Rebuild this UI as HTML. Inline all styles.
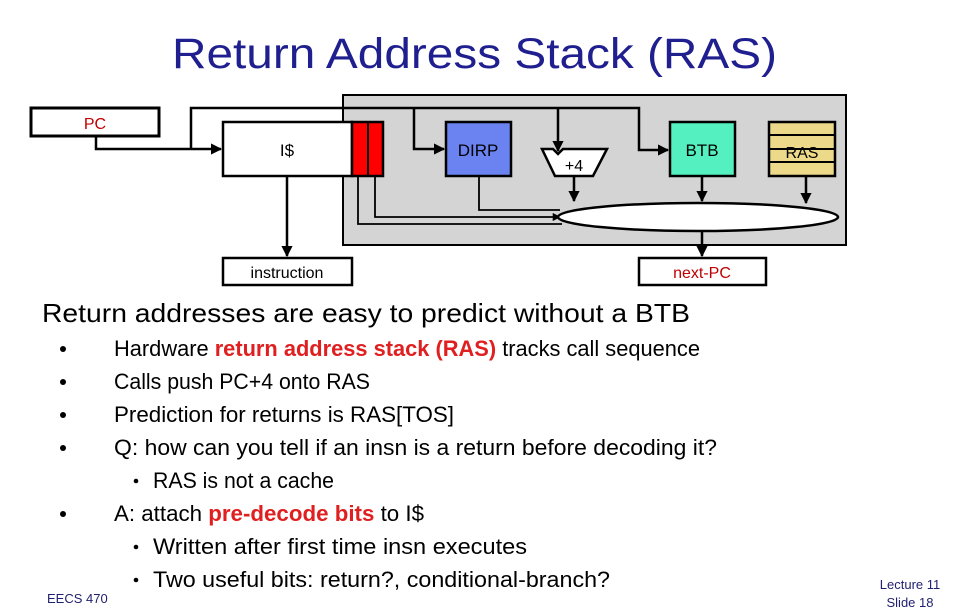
<!DOCTYPE html>
<html><head><meta charset="utf-8"><style>
html,body{margin:0;padding:0;background:#fff;}
svg{display:block;}
</style></head><body>
<svg width="958" height="612" viewBox="0 0 958 612" xmlns="http://www.w3.org/2000/svg" font-family="Liberation Sans, sans-serif">
<defs>
<marker id="a" viewBox="0 0 10 10" refX="9" refY="5" markerWidth="4.5" markerHeight="4.5" orient="auto"><path d="M0,0 L10,5 L0,10 z" fill="#000"/></marker>
</defs>
<text x="172" y="68" font-size="43" fill="#1f1f8f" textLength="605" lengthAdjust="spacingAndGlyphs">Return Address Stack (RAS)</text>
<rect x="343" y="95" width="503" height="150" fill="#d4d4d4" stroke="#000" stroke-width="2"/>
<rect x="31" y="108" width="128" height="28" fill="#fff" stroke="#000" stroke-width="3"/>
<text x="95" y="129" font-size="16" fill="#c00000" text-anchor="middle">PC</text>
<g fill="none" stroke="#000" stroke-width="2.5">
<polyline points="96,136 96,149 221,149" marker-end="url(#a)"/>
<polyline points="191,149 191,108 639,108 639,150 668,150" marker-end="url(#a)"/>
<polyline points="414,108 414,149 444,149" marker-end="url(#a)"/>
<polyline points="558,108 558,151" marker-end="url(#a)"/>
<polyline points="287,176 287,256" marker-end="url(#a)"/>
<polyline points="479,176 479,210 560,210" stroke-width="1.8"/>
<polyline points="375,176 375,217 560,217" stroke-width="1.8" marker-end="url(#a)"/>
<polyline points="358,176 358,224 562,224" stroke-width="1.8"/>
<polyline points="574,176 574,201" marker-end="url(#a)"/>
<polyline points="702,176 702,201" marker-end="url(#a)"/>
<polyline points="806,176 806,203" marker-end="url(#a)"/>
<polyline points="702,232 702,256" marker-end="url(#a)"/>
</g>
<rect x="223" y="122" width="129" height="54" fill="#fff" stroke="#000" stroke-width="2.5"/>
<text x="287" y="156" font-size="17" text-anchor="middle">I$</text>
<rect x="352" y="122" width="31" height="54" fill="#ff0000" stroke="#000" stroke-width="2.5"/>
<line x1="368" y1="122" x2="368" y2="176" stroke="#000" stroke-width="2"/>
<rect x="446" y="122" width="65" height="54" fill="#6b83f0" stroke="#000" stroke-width="2.5"/>
<text x="478" y="156" font-size="17" text-anchor="middle">DIRP</text>
<polygon points="542,149 553,149 558,154 563,149 607,149 593,176 555,176" fill="#fff" stroke="#000" stroke-width="2.5"/>
<text x="574" y="171" font-size="16" text-anchor="middle">+4</text>
<rect x="670" y="122" width="65" height="54" fill="#55f0c0" stroke="#000" stroke-width="2.5"/>
<text x="702" y="156" font-size="17" text-anchor="middle">BTB</text>
<rect x="769" y="122" width="66" height="54" fill="#ecd98a" stroke="#000" stroke-width="2.5"/>
<g stroke="#000" stroke-width="2"><line x1="769" y1="135" x2="835" y2="135"/><line x1="769" y1="149" x2="835" y2="149"/><line x1="769" y1="162" x2="835" y2="162"/></g>
<text x="802" y="158" font-size="16" text-anchor="middle">RAS</text>
<ellipse cx="698" cy="217" rx="140" ry="14" fill="#fff" stroke="#000" stroke-width="2.5"/>
<rect x="223" y="258" width="129" height="27" fill="#fff" stroke="#000" stroke-width="2.5"/>
<text x="287" y="278" font-size="16" text-anchor="middle">instruction</text>
<rect x="639" y="258" width="127" height="27" fill="#fff" stroke="#000" stroke-width="2.5"/>
<text x="702" y="278" font-size="16" fill="#c00000" text-anchor="middle">next-PC</text>
<g font-size="22" fill="#000">
<text x="42" y="322" font-size="26" textLength="648" lengthAdjust="spacingAndGlyphs">Return addresses are easy to predict without a BTB</text>
<g fill="#000"><circle cx="63" cy="349" r="3"/><circle cx="63" cy="382" r="3"/><circle cx="63" cy="415" r="3"/><circle cx="63" cy="448" r="3"/><circle cx="63" cy="514" r="3"/>
<circle cx="136" cy="481" r="2.3"/><circle cx="136" cy="547" r="2.3"/><circle cx="136" cy="580" r="2.3"/></g>
<text x="114" y="356" textLength="586" lengthAdjust="spacingAndGlyphs">Hardware <tspan fill="#e02020" font-weight="bold">return address stack (RAS)</tspan> tracks call sequence</text>
<text x="114" y="389" textLength="256" lengthAdjust="spacingAndGlyphs">Calls push PC+4 onto RAS</text>
<text x="114" y="422" textLength="340" lengthAdjust="spacingAndGlyphs">Prediction for returns is RAS[TOS]</text>
<text x="114" y="455" textLength="603" lengthAdjust="spacingAndGlyphs">Q: how can you tell if an insn is a return before decoding it?</text>
<text x="153" y="488" textLength="181" lengthAdjust="spacingAndGlyphs">RAS is not a cache</text>
<text x="114" y="521" textLength="310" lengthAdjust="spacingAndGlyphs">A: attach <tspan fill="#e02020" font-weight="bold">pre-decode bits</tspan> to I$</text>
<text x="153" y="554" textLength="374" lengthAdjust="spacingAndGlyphs">Written after first time insn executes</text>
<text x="153" y="587" textLength="457" lengthAdjust="spacingAndGlyphs">Two useful bits: return?, conditional-branch?</text>
</g>
<text x="47" y="603" font-size="13" fill="#1f1f6f">EECS 470</text>
<text x="910" y="589" font-size="13" fill="#1f1f6f" text-anchor="middle">Lecture 11</text>
<text x="910" y="607" font-size="13" fill="#1f1f6f" text-anchor="middle">Slide 18</text>
</svg>
</body></html>
